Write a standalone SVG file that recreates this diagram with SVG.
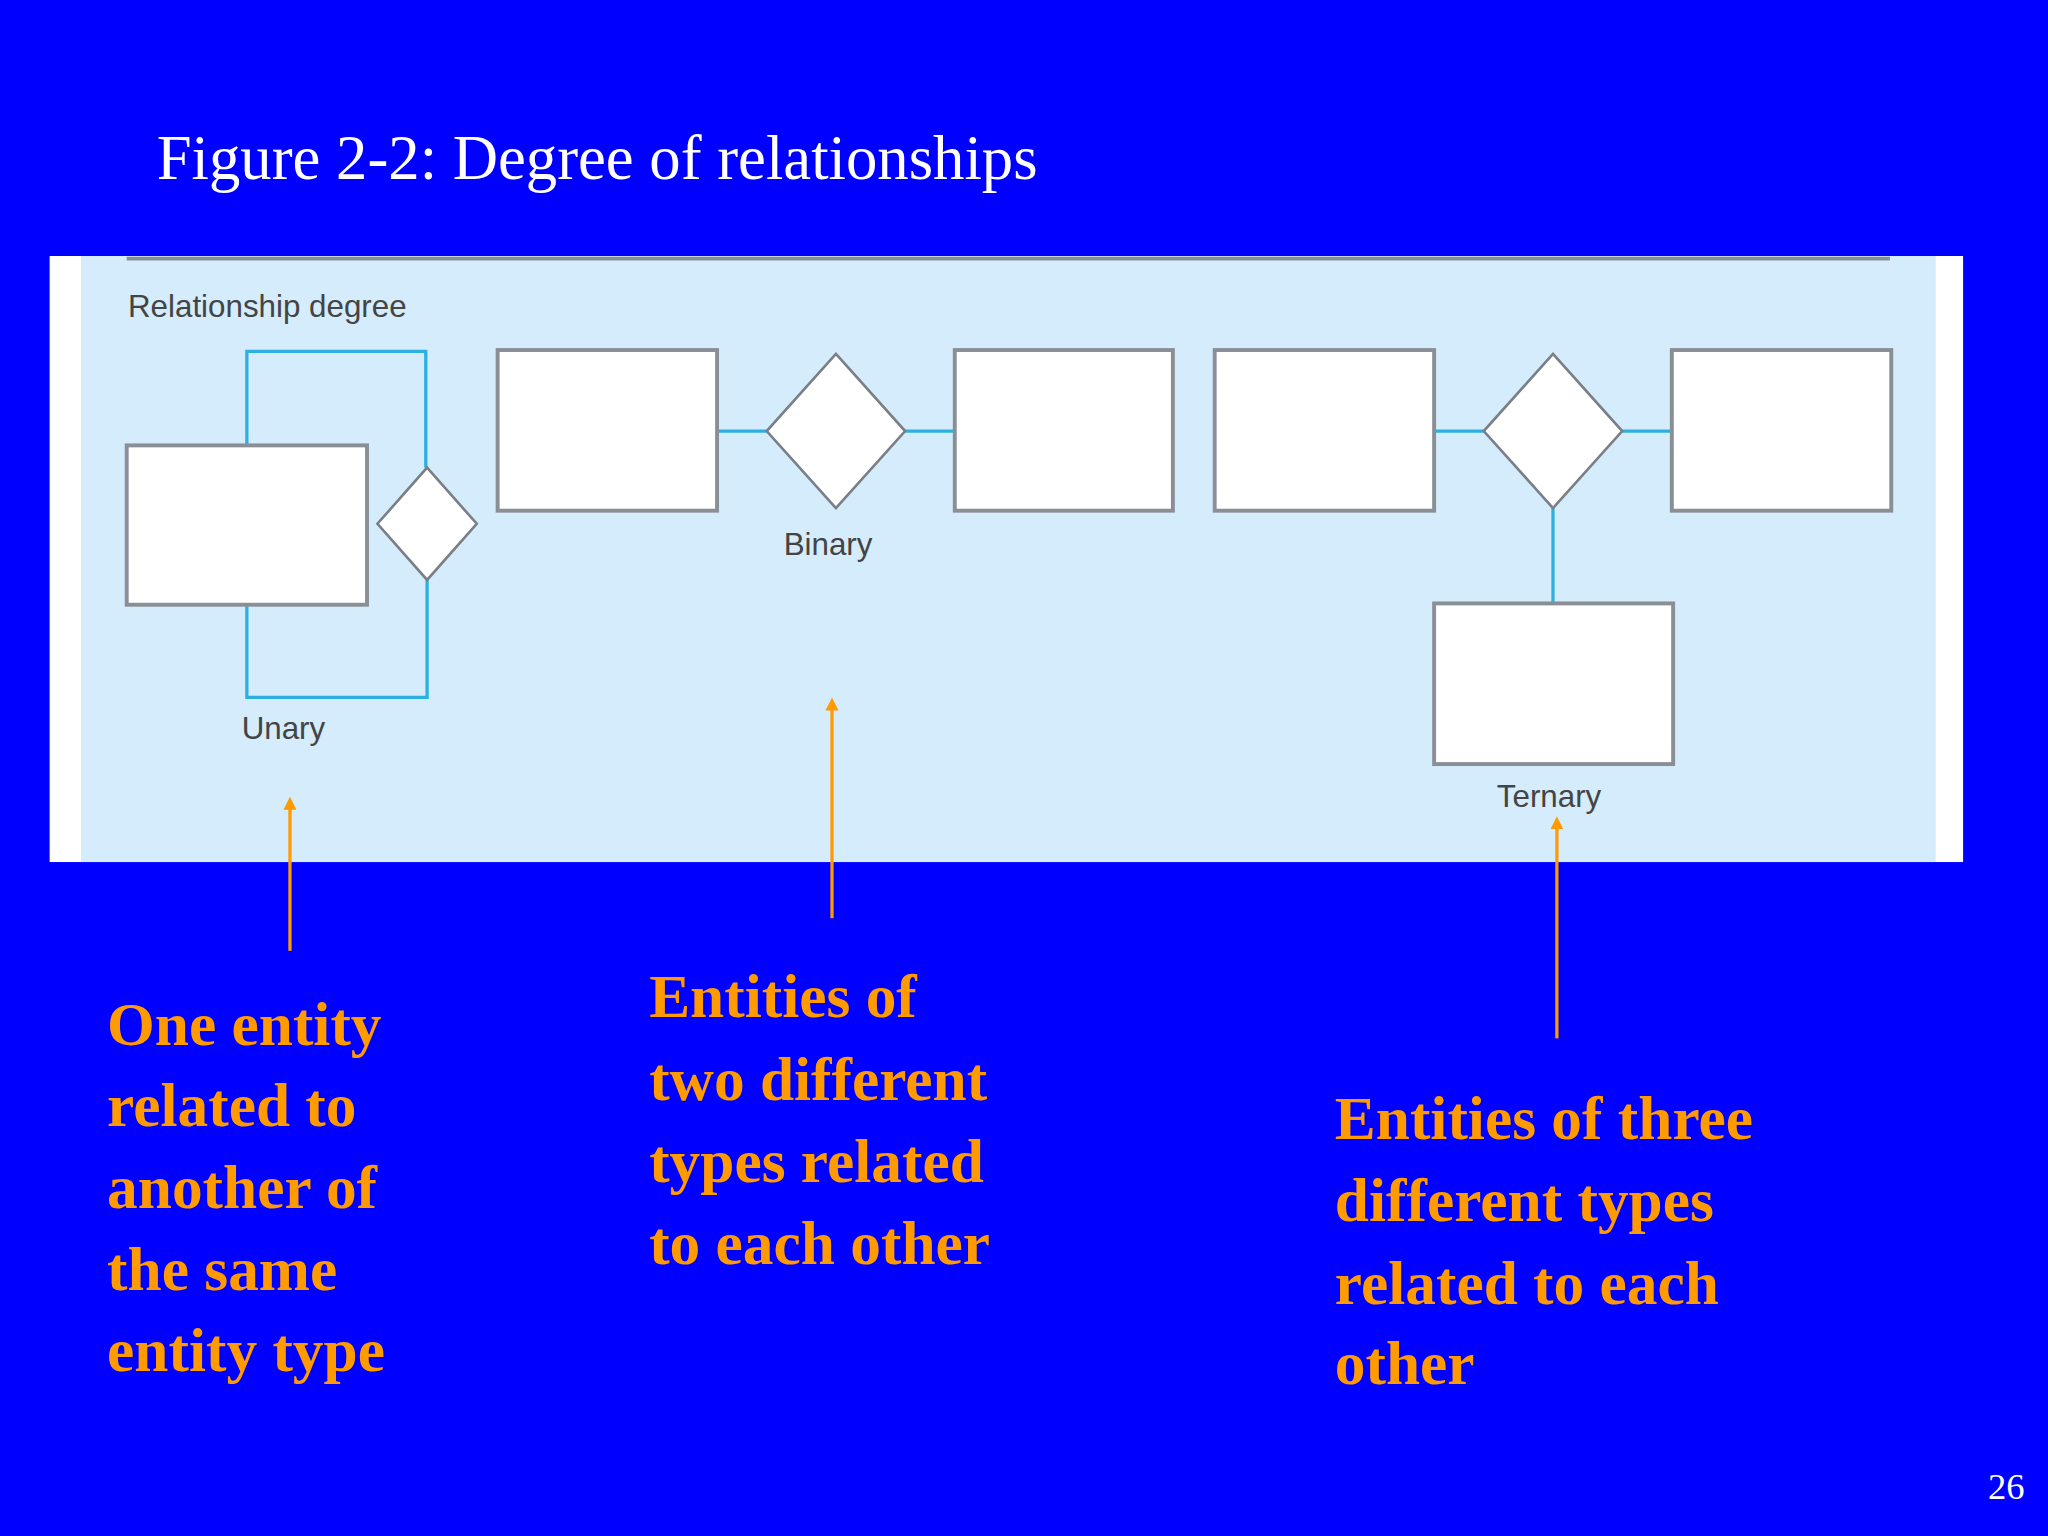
<svg xmlns="http://www.w3.org/2000/svg" width="2048" height="1536" viewBox="0 0 2048 1536">
<style>
.ent{fill:#fff;stroke:#8a8f96;stroke-width:3}
.rel{fill:#fff;stroke:#7a7f86;stroke-width:2}
.ln{stroke:#2bb0e0;stroke-width:2.5;fill:none}
.lbl{font-family:"Liberation Sans",Arial,sans-serif;font-size:24px;fill:#444}
.or{font-family:"Liberation Serif","Times New Roman",serif;font-weight:bold;font-size:47px;fill:#ff9a00}
.arr{stroke:#ff9a00;stroke-width:2.5;marker-end:url(#ah)}
</style>
<defs><marker id="ah" markerWidth="10" markerHeight="10" refX="5" refY="5" orient="auto" markerUnits="userSpaceOnUse"><path d="M0,0 L10,5 L0,10 z" fill="#ff9a00"/></marker></defs>
<rect width="2048" height="1536" fill="#0000ff"/>
<g transform="scale(1.30612)">
<text x="120" y="137" font-family="Liberation Serif,'Times New Roman',serif" font-size="48" fill="#fff">Figure 2-2: Degree of relationships</text>
<rect x="38" y="196" width="1465" height="464" fill="#fff"/>
<rect x="62" y="196" width="1420" height="464" fill="#d4ecfb"/>
<line x1="97" y1="198" x2="1447" y2="198" stroke="#8a8f96" stroke-width="3"/>
<text class="lbl" x="98" y="243">Relationship degree</text>
<g id="connectors">
<path class="ln" d="M189,341 V269 H326 V358 M327,444 V534 H189 V463"/>
<path class="ln" d="M549,330 H587 M693,330 H731"/>
<path class="ln" d="M1098,330 H1136 M1242,330 H1280 M1189,389 V462"/>
<line class="arr" x1="222" y1="728" x2="222" y2="615"/>
<line class="arr" x1="637" y1="703" x2="637" y2="539"/>
<line class="arr" x1="1192" y1="795" x2="1192" y2="630"/>
</g>
<g id="unary"><rect class="ent" x="97" y="341" width="184" height="122"/><path class="rel" d="M327,358 L365,401 L327,444 L289,401 z"/><text class="lbl" x="185" y="566">Unary</text></g>
<g id="binary"><rect class="ent" x="381" y="268" width="168" height="123"/><path class="rel" d="M640,271 L693,330 L640,389 L587,330 z"/><rect class="ent" x="731" y="268" width="167" height="123"/><text class="lbl" x="600" y="425">Binary</text></g>
<g id="ternary"><rect class="ent" x="930" y="268" width="168" height="123"/><path class="rel" d="M1189,271 L1242,330 L1189,389 L1136,330 z"/><rect class="ent" x="1280" y="268" width="168" height="123"/><rect class="ent" x="1098" y="462" width="183" height="123"/><text class="lbl" x="1146" y="618">Ternary</text></g>
<g id="t1"><text class="or" x="82" y="800">One entity</text><text class="or" x="82" y="862">related to</text><text class="or" x="82" y="925">another of</text><text class="or" x="82" y="988">the same</text><text class="or" x="82" y="1050">entity type</text></g>
<g id="t2"><text class="or" x="497" y="779">Entities of</text><text class="or" x="497" y="842">two different</text><text class="or" x="497" y="905">types related</text><text class="or" x="497" y="968">to each other</text></g>
<g id="t3"><text class="or" x="1022" y="872">Entities of three</text><text class="or" x="1022" y="935">different types</text><text class="or" x="1022" y="998">related to each</text><text class="or" x="1022" y="1060">other</text></g>
<text x="1522" y="1148" font-family="Liberation Serif,serif" font-size="28" fill="#fff">26</text>
</g>
</svg>
